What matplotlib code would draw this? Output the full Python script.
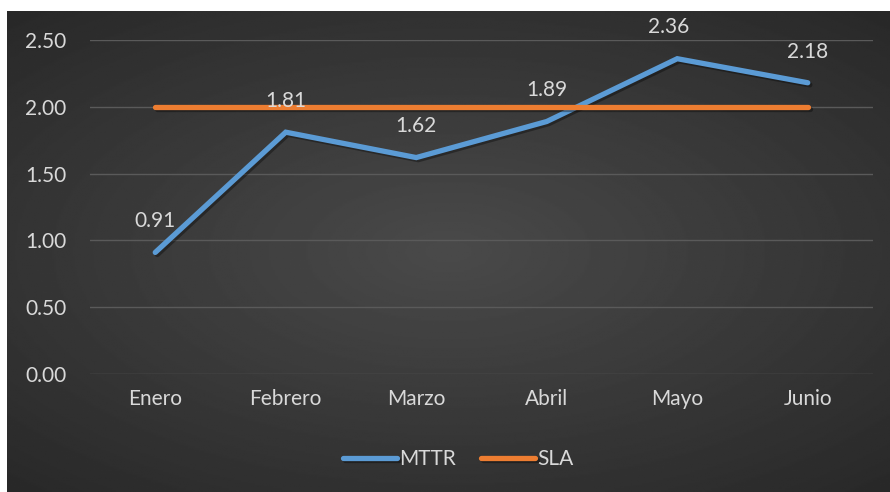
# MTTR vs SLA por mes
import numpy as np
import matplotlib.pyplot as plt
import matplotlib.patheffects as pe

# Data
months = ["Enero", "Febrero", "Marzo", "Abril", "Mayo", "Junio"]
mttr = [0.91, 1.81, 1.62, 1.89, 2.36, 2.18]
sla = [2.00, 2.00, 2.00, 2.00, 2.00, 2.00]
yticks = [0.0, 0.5, 1.0, 1.5, 2.0, 2.5]

blue = "#5b9bd5"
orange = "#ed7d31"
text_col = "#d9d9d9"

plt.rcParams["font.family"] = ["Lato", "DejaVu Sans"]

fig = plt.figure(figsize=(8.9, 4.92), dpi=100)
fig.patch.set_facecolor("white")

# Radial gradient background panel
bg = fig.add_axes([7 / 890, 0, 1 - 7 / 890, 1 - 11 / 492])
yy, xx = np.mgrid[-1:1:300j, -1:1:500j]
r = np.sqrt((xx * 0.95) ** 2 + (yy * 1.05) ** 2)
shade = 0.29 - 0.13 * np.clip(r / 1.4, 0, 1)
bg.imshow(shade, cmap="gray", vmin=0, vmax=1, aspect="auto", extent=[0, 1, 0, 1])
bg.set_axis_off()

ax = fig.add_axes([90 / 890, 1 - 374 / 492, (873 - 90) / 890, (374 - 40) / 492])
ax.set_facecolor("none")
x = np.arange(len(months))

shadow = [pe.SimpleLineShadow(offset=(1.5, -1.5), alpha=0.35, shadow_color="black"), pe.Normal()]
ax.plot(x, mttr, color=blue, lw=3.8, solid_capstyle="round", solid_joinstyle="miter",
        label="MTTR", path_effects=shadow, zorder=3)
ax.plot(x, sla, color=orange, lw=3.8, solid_capstyle="round",
        label="SLA", path_effects=shadow, zorder=4)

for i, v in enumerate(mttr):
    dx = -6 if i == 4 else 0
    ax.annotate(f"{v:.2f}", (i, v), xytext=(dx, 22.5), textcoords="offset points",
                ha="center", va="center", color=text_col, fontsize=15, zorder=5)

ax.set_xlim(-0.5, len(months) - 0.5)
ax.set_ylim(0, 2.5)
ax.set_yticks(yticks)
ax.set_yticklabels([f"{t:.2f}" for t in yticks])
ax.set_xticks(x)
ax.set_xticklabels(months)
ax.tick_params(colors=text_col, labelsize=15, length=0)
ax.tick_params(axis="y", pad=17)
ax.tick_params(axis="x", pad=11)
ax.grid(axis="y", color="#5a5a5a", lw=1)
for s in ax.spines.values():
    s.set_visible(False)

leg = ax.legend(loc="center", bbox_to_anchor=((458 - 90) / 783, -0.255),
                ncol=2, frameon=False, fontsize=15, handlelength=2.6,
                handletextpad=0.1, columnspacing=1.2)
for t in leg.get_texts():
    t.set_color(text_col)

plt.savefig("out.png", dpi=100)
